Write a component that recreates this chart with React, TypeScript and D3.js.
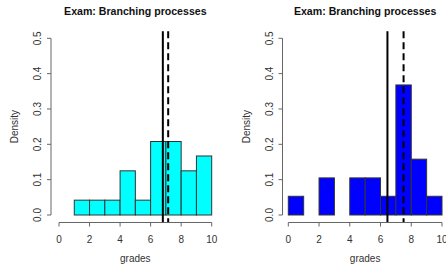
import React from 'react';
import * as d3 from 'd3';

// bin edges 0..10, density per bin
const binStarts = [0, 1, 2, 3, 4, 5, 6, 7, 8, 9];
const leftDensity = [0, 0.042, 0.042, 0.042, 0.125, 0.042, 0.208, 0.208, 0.125, 0.167];
const rightDensity = [0.053, 0, 0.105, 0, 0.105, 0.105, 0.053, 0.368, 0.158, 0.053];
const xTicks = [0, 2, 4, 6, 8, 10];
const yTicks = [0, 0.1, 0.2, 0.3, 0.4, 0.5];
const leftMedian = 6.8;
const leftMean = 7.15;
const rightMedian = 6.45;
const rightMean = 7.5;
const title = 'Exam: Branching processes';

const Panel = (props: {
  x0: number; x10: number; axisX: number;
  density: number[]; fill: string; solid: number; dashed: number;
}) => {
  const x = d3.scaleLinear().domain([0, 10]).range([props.x0, props.x10]);
  const y = d3.scaleLinear().domain([0, 0.5]).range([215, 38.3]);
  const top = y(0.52);
  const bottom = y(-0.02);
  const font = 'Liberation Sans, Arial, sans-serif';
  return (
    <g>
      <text x={x(5)} y={15} textAnchor="middle" fontFamily={font} fontSize={10.6}
        fontWeight="bold" fill="#111">{title}</text>
      {/* bars */}
      {props.density.map((d, i) => (
        <rect key={i} x={x(binStarts[i])} y={y(d)} width={x(binStarts[i] + 1) - x(binStarts[i])}
          height={y(0) - y(d)} fill={props.fill} stroke={d === 0 ? '#999' : '#333'} strokeWidth={1} />
      ))}
      {/* y axis */}
      <line x1={props.axisX} x2={props.axisX} y1={y(0)} y2={y(0.5)} stroke="#666" />
      {yTicks.map(t => (
        <g key={t}>
          <line x1={props.axisX - 4} x2={props.axisX} y1={y(t)} y2={y(t)} stroke="#666" />
          <text transform={`translate(${props.axisX - 10},${y(t)}) rotate(-90)`} textAnchor="middle"
            fontFamily={font} fontSize={10} fill="#333">{t.toFixed(1)}</text>
        </g>
      ))}
      <text transform={`translate(${props.axisX - 33},${y(0.25)}) rotate(-90)`} textAnchor="middle"
        fontFamily={font} fontSize={10} fill="#333">Density</text>
      {/* x axis */}
      <line x1={x(0)} x2={x(10)} y1={222.5} y2={222.5} stroke="#666" />
      {xTicks.map(t => (
        <g key={t}>
          <line x1={x(t)} x2={x(t)} y1={222.5} y2={226.5} stroke="#666" />
          <text x={x(t)} y={243} textAnchor="middle" fontFamily={font} fontSize={10} fill="#333">{t}</text>
        </g>
      ))}
      <text x={x(5)} y={262} textAnchor="middle" fontFamily={font} fontSize={10} fill="#333">grades</text>
      {/* reference lines */}
      <line x1={x(props.solid)} x2={x(props.solid)} y1={top} y2={bottom} stroke="#000" strokeWidth={2} />
      <line x1={x(props.dashed)} x2={x(props.dashed)} y1={top} y2={bottom} stroke="#000" strokeWidth={2}
        strokeDasharray="7,4" />
    </g>
  );
};

export default function App() {
  return (
    <svg width={446} height={267} style={{ position: 'absolute', left: 0, top: 0, background: '#fff' }}>
      <Panel x0={59} x10={211.7} axisX={51} density={leftDensity} fill="#00ffff"
        solid={leftMedian} dashed={leftMean} />
      <Panel x0={288.3} x10={442} axisX={282.5} density={rightDensity} fill="#0000ff"
        solid={rightMedian} dashed={rightMean} />
    </svg>
  );
}
